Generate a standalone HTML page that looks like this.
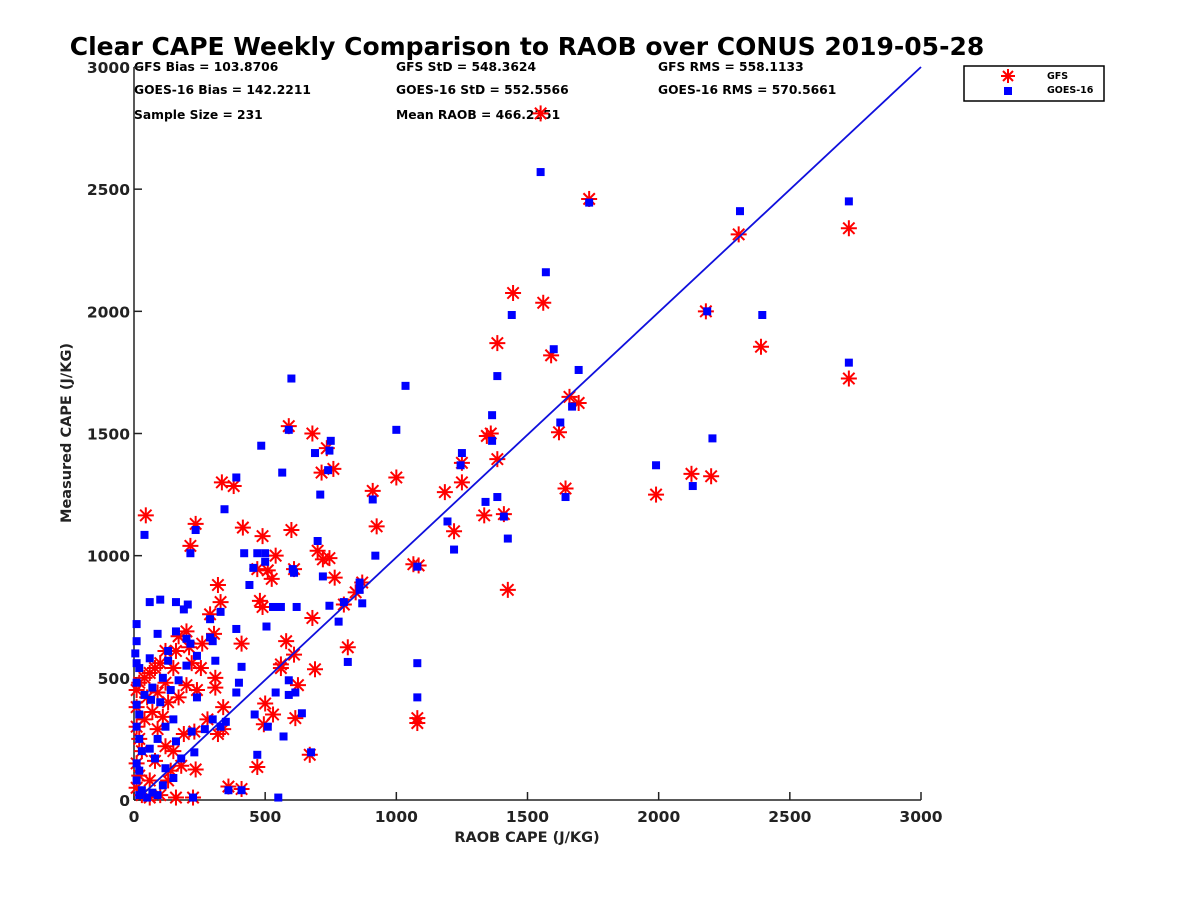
<!DOCTYPE html>
<html><head><meta charset="utf-8"><style>
body{margin:0;background:#fff;}
svg text{font-family:"DejaVu Sans","Liberation Sans",sans-serif;font-weight:bold;}
</style></head><body>
<svg id="chart" width="1200" height="900" xmlns="http://www.w3.org/2000/svg">
<rect width="1200" height="900" fill="#fff"/>
<text x="527" y="55" font-size="25" text-anchor="middle" fill="#000">Clear CAPE Weekly Comparison to RAOB over CONUS 2019-05-28</text>
<g font-size="12.3" fill="#000">
<text x="134" y="71">GFS Bias = 103.8706</text>
<text x="134" y="94">GOES-16 Bias = 142.2211</text>
<text x="134" y="119">Sample Size = 231</text>
<text x="396" y="71">GFS StD = 548.3624</text>
<text x="396" y="94">GOES-16 StD = 552.5566</text>
<text x="396" y="119">Mean RAOB = 466.2251</text>
<text x="658" y="71">GFS RMS = 558.1133</text>
<text x="658" y="94">GOES-16 RMS = 570.5661</text>
</g>
<g id="axes"></g>
<g id="marks"></g>
<g>
<rect x="964" y="66" width="140" height="35" fill="#fff" stroke="#000" stroke-width="1.5"/>
<g transform="translate(1008,76)" stroke="red" stroke-width="2">
<line x1="-7" y1="0" x2="7" y2="0"/><line x1="0" y1="-7" x2="0" y2="7"/><line x1="-5" y1="-5" x2="5" y2="5"/><line x1="-5" y1="5" x2="5" y2="-5"/></g>
<rect x="1004" y="87" width="8" height="8" fill="#0000ff"/>
<text x="1047" y="79" font-size="9.5">GFS</text>
<text x="1047" y="93" font-size="9.5">GOES-16</text>
</g>
</svg>
<script>
const xTicks=[0,500,1000,1500,2000,2500,3000];
const yTicks=[0,500,1000,1500,2000,2500,3000];
const fitLine=[[40,30],[3000,3000]];
const gfsX=[1550,1735,2305,2725,2180,2390,2725,1445,1560,1385,1590,1660,1695,1620,1360,1345,1385,1250,1645,1990,2125,2200,1250,1185,1335,1410,1220,1425,1065,1085,1080,1080,1000,925,910,590,680,735,760,715,700,720,745,765,800,815,870,845,600,540,490,470,510,525,415,380,335,320,330,215,235,45,610,580,560,680,690,670,470,480,490,495,500,530,560,610,615,625,410,360,410,225,235,290,305,310,310,340,320,340,280,240,255,200,210,170,160,120,100,80,60,40,20,10,10,10,20,30,10,20,10,30,60,100,160,140,120,90,70,130,170,190,150,110,50,200,220,260,120,80,40,150,90,60,130,180,230];
const gfsY=[2810,2460,2315,2340,2000,1855,1725,2075,2035,1870,1820,1650,1625,1505,1500,1490,1395,1380,1275,1250,1335,1325,1300,1260,1165,1170,1100,860,965,960,335,315,1320,1120,1265,1530,1500,1440,1355,1340,1020,985,990,910,800,625,890,850,1105,1000,1080,945,940,905,1115,1285,1300,880,810,1040,1130,1165,945,650,540,745,535,185,135,815,790,310,395,350,555,595,335,470,640,55,45,10,125,760,680,500,460,380,270,290,330,450,540,690,625,670,610,610,560,540,520,500,480,450,380,300,250,200,150,100,50,20,10,20,10,120,220,290,360,400,420,270,200,340,420,470,560,640,480,160,330,540,440,80,80,140,280];
const goesX=[1550,1735,2310,2725,2185,2395,2725,1440,1570,1385,1600,1695,1670,1625,1365,1365,1250,1245,1645,1990,2130,2205,1340,1385,1410,1425,1195,1220,1080,1035,1000,1080,1080,920,910,600,590,565,485,750,745,740,710,690,700,720,745,780,815,800,860,870,860,675,460,470,505,500,560,530,500,470,420,455,440,390,345,330,310,390,400,410,390,350,290,290,300,240,240,235,215,205,190,200,215,200,160,130,90,60,100,160,40,10,10,5,10,20,40,10,10,20,10,20,30,10,20,10,30,50,70,110,150,120,80,60,90,120,150,180,220,270,300,330,230,160,100,70,170,110,60,130,20,90,360,410,225,550,640,615,590,590,540,570,510,605,620,610,65,140];
const goesY=[2570,2445,2410,2450,2000,1985,1790,1985,2160,1735,1845,1760,1610,1545,1575,1470,1420,1370,1240,1370,1285,1480,1220,1240,1160,1070,1140,1025,955,1695,1515,560,420,1000,1230,1725,1515,1340,1450,1470,1430,1350,1250,1420,1060,915,795,730,565,810,860,805,890,195,350,185,710,1010,790,790,975,1010,1010,950,880,1320,1190,770,570,700,480,545,440,320,740,665,650,590,420,1105,1010,800,780,660,640,550,690,610,680,810,820,810,1085,720,650,600,560,540,430,480,390,350,300,250,200,150,120,80,40,10,30,60,90,130,170,210,250,300,330,170,280,290,330,300,195,240,400,460,490,500,580,570,20,20,40,40,10,10,355,440,490,430,440,260,300,945,790,930,410,450];
const NS='http://www.w3.org/2000/svg';
const X0=134,X1=921,Y0=800,Y1=67;
function sx(v){return X0+(v-0)/(3000)*(X1-X0);}
function sy(v){return Y0-(v-0)/(3000)*(Y0-Y1);}
function mk(tag,attrs,parent){const e=document.createElementNS(NS,tag);for(const k in attrs)e.setAttribute(k,attrs[k]);parent.appendChild(e);return e;}
const axes=document.getElementById('axes'),marks=document.getElementById('marks');
let el=mk('line',{x1:X0,y1:Y0,x2:X1,y2:Y0,stroke:'#222','stroke-width':1.5},axes);


el=mk('line',{x1:X0,y1:Y0,x2:X0,y2:Y1,stroke:'#222','stroke-width':1.5},axes);


xTicks.forEach(t=>{
  const x=sx(t);
  let l=mk('line',{x1:x,y1:Y0,x2:x,y2:Y0-8,stroke:'#222','stroke-width':1.5},axes);
  
  
  let tx=mk('text',{x:x,y:Y0+22,'font-size':15.5,'text-anchor':'middle',fill:'#222'},axes);tx.textContent=t;
  
  
});
yTicks.forEach(t=>{
  const y=sy(t);
  let l=mk('line',{x1:X0,y1:y,x2:X0+8,y2:y,stroke:'#222','stroke-width':1.5},axes);
  
  
  let tx=mk('text',{x:X0-4,y:y+6,'font-size':15.5,'text-anchor':'end',fill:'#222'},axes);tx.textContent=t;
  
  
});
el=mk('text',{x:527,y:842,'font-size':14.5,'text-anchor':'middle',fill:'#222'},axes);el.textContent='RAOB CAPE (J/KG)';


el=mk('text',{x:71,y:433,'font-size':14.5,'text-anchor':'middle',fill:'#222',transform:'rotate(-90 71 433)'},axes);el.textContent='Measured CAPE (J/KG)';


gfsX.forEach((v,i)=>{
  const g=mk('g',{transform:`translate(${sx(v)},${sy(gfsY[i])})`,stroke:'red','stroke-width':2},marks);
  
  
  mk('line',{x1:-8,y1:0,x2:8,y2:0},g);mk('line',{x1:0,y1:-8,x2:0,y2:8},g);
  mk('line',{x1:-5.7,y1:-5.7,x2:5.7,y2:5.7},g);mk('line',{x1:-5.7,y1:5.7,x2:5.7,y2:-5.7},g);
});
el=mk('line',{x1:sx(fitLine[0][0]),y1:sy(fitLine[0][1]),x2:sx(fitLine[1][0]),y2:sy(fitLine[1][1]),stroke:'#1010dd','stroke-width':1.8},marks);


goesX.forEach((v,i)=>{
  const r=mk('rect',{x:sx(v)-4,y:sy(goesY[i])-4,width:8,height:8,fill:'#0000ff'},marks);
  
  
});
</script>
</body></html>
